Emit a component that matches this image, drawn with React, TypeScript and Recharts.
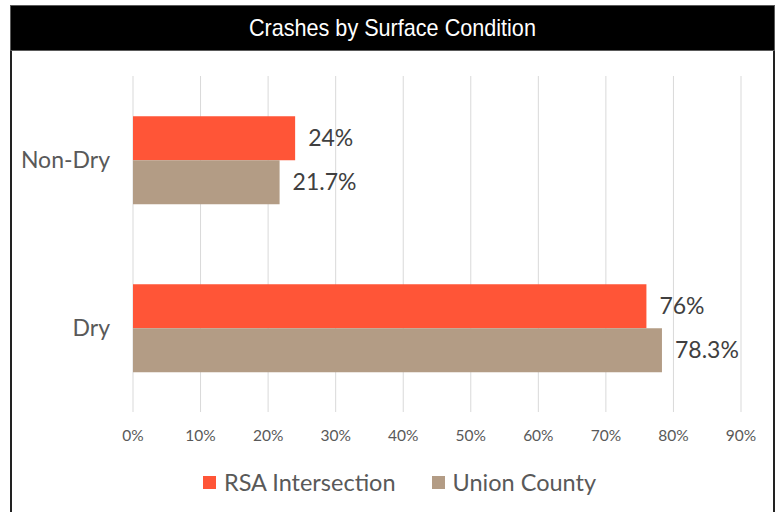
import React from 'react';
import {
  BarChart,
  Bar,
  XAxis,
  YAxis,
  CartesianGrid,
  Legend,
  LabelList,
} from 'recharts';

const categories = ['Non-Dry', 'Dry'];
const rsaIntersection = [24, 76];
const unionCounty = [21.7, 78.3];
const xTicks = [0, 10, 20, 30, 40, 50, 60, 70, 80, 90];

const SERIES = [
  { key: 'rsa', name: 'RSA Intersection', color: '#FF5537' },
  { key: 'union', name: 'Union County', color: '#B39C85' },
];

const data = categories.map((cat, i) => ({
  cat,
  rsa: rsaIntersection[i],
  union: unionCounty[i],
}));

const FONT = "Lato, 'Open Sans', sans-serif";

function LegendBox() {
  return (
    <div
      style={{
        height: 60,
        display: 'flex',
        justifyContent: 'center',
        alignItems: 'center',
        gap: 36,
        fontFamily: FONT,
        fontSize: 23.5,
        color: '#595959',
        paddingLeft: 46,
      }}
    >
      {SERIES.map(s => (
        <div key={s.key} style={{ display: 'flex', alignItems: 'center' }}>
          <span style={{ width: 13, height: 13, background: s.color, marginRight: 8, display: 'inline-block' }} />
          <span>{s.name}</span>
        </div>
      ))}
    </div>
  );
}

export default function App() {
  return (
    <div style={{ position: 'absolute', left: 10, top: 5, width: 765 }}>
      <div
        style={{
          height: 44,
          background: '#000',
          border: '1px solid #5a5a5a',
          color: '#fff',
          display: 'flex',
          alignItems: 'center',
          justifyContent: 'center',
          fontFamily: "'Liberation Sans', Arial, sans-serif",
          fontSize: 24,
        }}
      >
        <span style={{ display: 'inline-block', transform: 'scaleX(0.9)' }}>
          Crashes by Surface Condition
        </span>
      </div>
      <div
        style={{
          borderLeft: '2px solid #222',
          borderRight: '2px solid #222',
          background: '#fff',
          height: 470,
        }}
      >
        <BarChart
          width={761}
          height={461}
          layout="vertical"
          data={data}
          margin={{ top: 25, right: 32, left: 0, bottom: 0 }}
          barCategoryGap="24%"
          barGap={0}
        >
          <CartesianGrid horizontal={false} stroke="#d9d9d9" />
          <XAxis
            type="number"
            domain={[0, 90]}
            ticks={xTicks}
            tickFormatter={v => `${v}%`}
            axisLine={false}
            tickLine={false}
            tickSize={0}
            tickMargin={18}
            height={40}
            tick={{ fill: '#595959', fontSize: 15.5, fontFamily: FONT }}
            interval={0}
          />
          <YAxis
            type="category"
            dataKey="cat"
            width={121}
            axisLine={false}
            tickLine={false}
            tickSize={0}
            tickMargin={23}
            tick={{ fill: '#595959', fontSize: 23, fontFamily: FONT }}
          />
          <Legend verticalAlign="bottom" content={<LegendBox />} />
          {SERIES.map(s => (
            <Bar key={s.key} dataKey={s.key} name={s.name} fill={s.color} isAnimationActive={false}>
              <LabelList
                dataKey={s.key}
                position="right"
                offset={13}
                formatter={(v: any) => `${v}%`}
                style={{ fill: '#404040', fontSize: 23, fontFamily: FONT }}
              />
            </Bar>
          ))}
        </BarChart>
      </div>
    </div>
  );
}
